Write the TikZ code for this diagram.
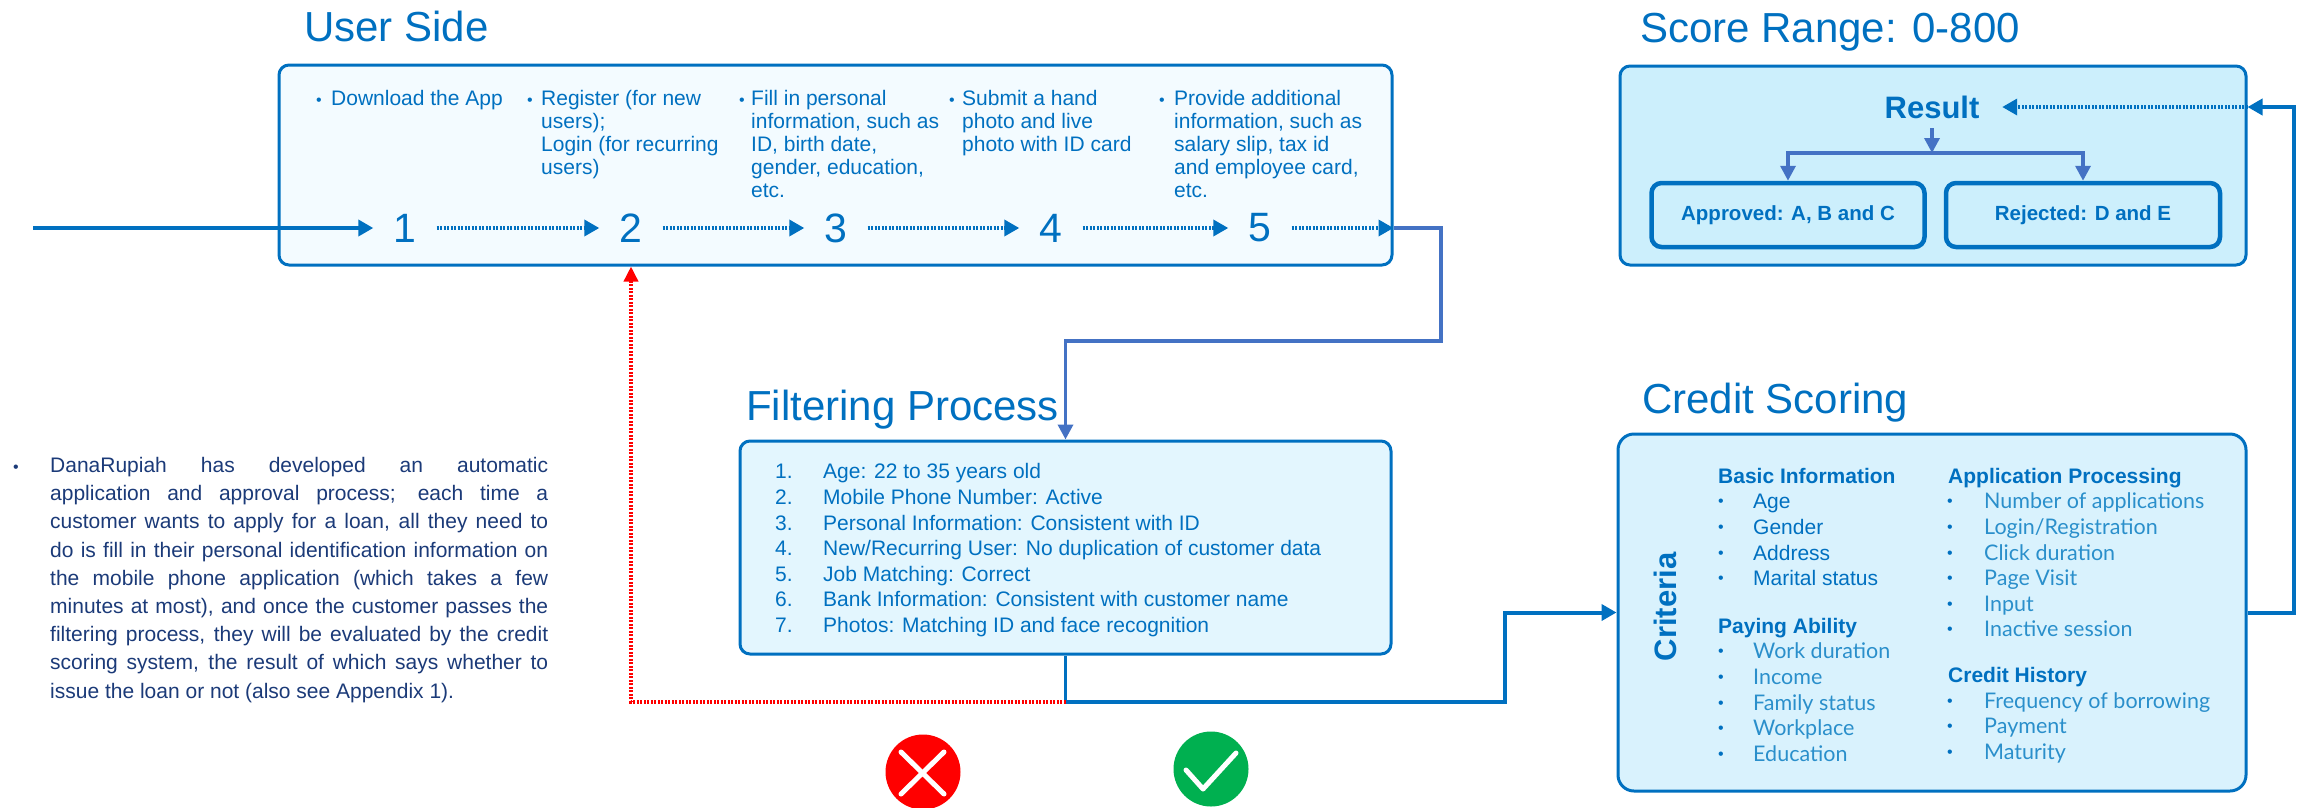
\documentclass[tikz,border=0pt]{standalone}
\usepackage{fontspec}
\setmainfont{Liberation Sans}
\newfontfamily\lightfont{Lato}
\usetikzlibrary{arrows.meta}
\definecolor{mainblue}{HTML}{0070C0}
\definecolor{linkblue}{HTML}{4472C4}
\definecolor{softblue}{HTML}{2A8FCB}
\definecolor{navytext}{HTML}{1B3A78}
\definecolor{userfill}{HTML}{F3FBFF}
\definecolor{filterfill}{HTML}{E3F6FE}
\definecolor{scorefill}{HTML}{CCEFFC}
\definecolor{creditfill}{HTML}{D9F2FD}
\definecolor{failgreen}{HTML}{00B050}
\tikzset{
    headtext/.style={anchor=base west, inner sep=0pt, text=mainblue, font=\fontsize{42}{50}\selectfont},
    steptext/.style={anchor=north west, inner sep=0pt, align=left, text=mainblue, font=\fontsize{21}{23}\selectfont},
    stepdot/.style={anchor=base, inner sep=0pt, text=mainblue, font=\fontsize{16}{16}\selectfont},
    stepnum/.style={inner sep=0pt, minimum width=63pt, minimum height=40pt, text=mainblue, font=\fontsize{41}{46}\selectfont},
    rowtext/.style={anchor=base west, inner sep=0pt, text=mainblue, font=\fontsize{21}{24}\selectfont},
    softtext/.style={anchor=base west, inner sep=0pt, text=softblue, font=\lightfont\fontsize{21.5}{24}\selectfont},
    boldrow/.style={anchor=base west, inner sep=0pt, text=mainblue, font=\bfseries\fontsize{21}{24}\selectfont},
    panel/.style={draw=mainblue, line width=3pt, rounded corners=10pt, inner sep=0pt},
    innerpanel/.style={panel, line width=4.5pt, fill=scorefill, text=mainblue, font=\bfseries\fontsize{20.5}{24}\selectfont},
    solidarrow/.style={draw=mainblue, line width=4pt, -{Triangle[length=15pt,width=16pt]}},
    dotarrow/.style={draw=mainblue, line width=3.5pt, dash pattern=on 2pt off 1.5pt, -{Triangle[length=15pt,width=16pt]}},
    linkarrow/.style={draw=linkblue, line width=3.5pt, -{Triangle[length=15pt,width=15pt]}},
}
\begin{document}
\begin{tikzpicture}[x=1pt,y=-1pt]
    \useasboundingbox (0,0) rectangle (2305,807);
    % boxes
    \node[panel, fill=userfill, minimum width=1113pt, minimum height=200pt] (userbox) at (835.5,165) {};
    \node[panel, fill=filterfill, minimum width=651pt, minimum height=213pt] (filterbox) at (1065.5,547.5) {};
    \node[panel, fill=scorefill, minimum width=626pt, minimum height=199pt] (scorebox) at (1933,165.5) {};
    \node[panel, fill=creditfill, minimum width=628pt, minimum height=357pt, rounded corners=16pt] (creditbox) at (1932,612.5) {};
    % titles
    \node[headtext] (userhead) at (304,41.5) {User Side};
    \node[headtext] (scorehead) at (1640,42) {Score Range: 0-800};
    \node[headtext] (filterhead) at (746,420) {Filtering Process};
    \node[headtext] (credithead) at (1642,413) {Credit Scoring};
    % user steps
    \node[stepdot] (dota) at (319,105) {•};
    \node[steptext] (stepa) at (331,90) {Download the App};
    \node[stepdot] (dotb) at (530,105) {•};
    \node[steptext] (stepb) at (541,90) {Register (for new\\users);\\Login (for recurring\\users)};
    \node[stepdot] (dotc) at (742,105) {•};
    \node[steptext] (stepc) at (751,90) {Fill in personal\\information, such as\\ID, birth date,\\gender, education,\\etc.};
    \node[stepdot] (dotd) at (952,105) {•};
    \node[steptext] (stepd) at (962,90) {Submit a hand\\photo and live\\photo with ID card};
    \node[stepdot] (dote) at (1162,105) {•};
    \node[steptext] (stepe) at (1174,90) {Provide additional\\information, such as\\salary slip, tax id\\and employee card,\\etc.};
    \node[stepnum] (n1) at (405,228) {1};
    \node[stepnum] (n2) at (631,228) {2};
    \node[stepnum] (n3) at (836,228) {3};
    \node[stepnum] (n4) at (1051,228) {4};
    \node[stepnum] (n5) at (1260,228) {5};
    % filtering rows
    \node[rowtext] (fa) at (775,478) {1.};
    \node[rowtext] (fb) at (775,504) {2.};
    \node[rowtext] (fc) at (775,530) {3.};
    \node[rowtext] (fd) at (775,555) {4.};
    \node[rowtext] (fe) at (775,581) {5.};
    \node[rowtext] (ff) at (775,606) {6.};
    \node[rowtext] (fg) at (775,632) {7.};
    \node[rowtext] (ta) at (823,478) {Age: 22 to 35 years old};
    \node[rowtext] (tb) at (823,504) {Mobile Phone Number: Active};
    \node[rowtext] (tc) at (823,530) {Personal Information: Consistent with ID};
    \node[rowtext] (td) at (823,555) {New/Recurring User: No duplication of customer data};
    \node[rowtext] (te) at (823,581) {Job Matching: Correct};
    \node[rowtext] (tf) at (823,606) {Bank Information: Consistent with customer name};
    \node[rowtext] (tg) at (823,632) {Photos: Matching ID and face recognition};
    % score side
    \node[inner sep=0pt, minimum width=140pt, minimum height=42pt, text=mainblue, font=\bfseries\fontsize{31}{36}\selectfont] (result) at (1932,107) {Result};
    \node[innerpanel, minimum width=273pt, minimum height=64pt] (approved) at (1788,215) {Approved: A, B and C};
    \node[innerpanel, minimum width=274pt, minimum height=64pt] (rejected) at (2083,215) {Rejected: D and E};
    % criteria
    \node[rotate=90, inner sep=0pt, text=mainblue, font=\bfseries\fontsize{31}{36}\selectfont] (criteria) at (1665,607) {Criteria};
    \node[boldrow] (basic) at (1718,483) {Basic Information};
    \node[stepdot] (ba) at (1721,506) {•};
    \node[rowtext] (baa) at (1753,508) {Age};
    \node[stepdot] (bb) at (1721,532) {•};
    \node[rowtext] (bbb) at (1753,534) {Gender};
    \node[stepdot] (bc) at (1721,558) {•};
    \node[rowtext] (bcc) at (1753,560) {Address};
    \node[stepdot] (bd) at (1721,583) {•};
    \node[rowtext] (bdd) at (1753,585) {Marital status};
    \node[boldrow] (paying) at (1718,633) {Paying Ability};
    \node[stepdot] (pa) at (1721,656) {•};
    \node[softtext] (paa) at (1753,658) {Work duration};
    \node[stepdot] (pb) at (1721,682) {•};
    \node[softtext] (pbb) at (1753,684) {Income};
    \node[stepdot] (pc) at (1721,708) {•};
    \node[softtext] (pcc) at (1753,710) {Family status};
    \node[stepdot] (pd) at (1721,733) {•};
    \node[softtext] (pdd) at (1753,735) {Workplace};
    \node[stepdot] (pe) at (1721,759) {•};
    \node[softtext] (pee) at (1753,761) {Education};
    \node[boldrow] (process) at (1948,483) {Application Processing};
    \node[stepdot] (aa) at (1950,506) {•};
    \node[softtext] (aaa) at (1984,508) {Number of applications};
    \node[stepdot] (ab) at (1950,532) {•};
    \node[softtext] (abb) at (1984,534) {Login/Registration};
    \node[stepdot] (ac) at (1950,558) {•};
    \node[softtext] (acc) at (1984,560) {Click duration};
    \node[stepdot] (ad) at (1950,583) {•};
    \node[softtext] (add) at (1984,585) {Page Visit};
    \node[stepdot] (ae) at (1950,609) {•};
    \node[softtext] (aee) at (1984,611) {Input};
    \node[stepdot] (af) at (1950,634) {•};
    \node[softtext] (aff) at (1984,636) {Inactive session};
    \node[boldrow] (history) at (1948,682) {Credit History};
    \node[stepdot] (ca) at (1950,706) {•};
    \node[softtext] (caa) at (1984,708) {Frequency of borrowing};
    \node[stepdot] (cb) at (1950,731) {•};
    \node[softtext] (cbb) at (1984,733) {Payment};
    \node[stepdot] (cc) at (1950,757) {•};
    \node[softtext] (ccc) at (1984,759) {Maturity};
    % paragraph on the left
    \node[stepdot, text=navytext] (noteDot) at (16,472) {•};
    \node[anchor=north west, inner sep=0pt, text width=498pt, align=justify, text=navytext, font=\fontsize{21}{28.2}\selectfont] (note) at (50,457) {DanaRupiah has developed an automatic\linebreak application and approval process; each time a\linebreak customer wants to apply for a loan, all they need to\linebreak do is fill in their personal identification information on\linebreak the mobile phone application (which takes a few\linebreak minutes at most), and once the customer passes the\linebreak filtering process, they will be evaluated by the credit\linebreak scoring system, the result of which says whether to\linebreak issue the loan or not (also see Appendix 1).};
    % icons
    \node[circle, fill=red, inner sep=0pt, minimum size=75pt] (crossicon) at (923,772) {};
    \draw[white, line width=5pt, line cap=round] (901,752) -- (944,794);
    \draw[white, line width=5pt, line cap=round] (944,752) -- (901,794);
    \node[circle, fill=failgreen, inner sep=0pt, minimum size=75pt] (tickicon) at (1211,769) {};
    \draw[white, line width=5pt, line cap=round, line join=round] (1186,770) -- (1203,789) -- (1236,753);
    % step connectors
    \coordinate (entry) at (33,228);
    \draw[solidarrow] (entry) -- (n1.west);
    \draw[dotarrow] (n1.east) -- (n2.west);
    \draw[dotarrow] (n2.east) -- (n3.west);
    \draw[dotarrow] (n3.east) -- (n4.west);
    \draw[dotarrow] (n4.east) -- (n5.west);
    \draw[dotarrow] (n5.east) -- (n5 -| userbox.east);
    % between the panels
    \coordinate (userturn) at (1441,341);
    \coordinate (split) at (1065.5,702);
    \coordinate (rise) at (1505,612.5);
    \coordinate (outturn) at (2294,612.5);
    \coordinate (topturn) at (2294,107);
    \coordinate (branch) at (1932,153);
    \draw[linkarrow] (n5 -| userbox.east) -| (userturn) -| (filterbox.north);
    \draw[draw=mainblue, line width=3.5pt] (filterbox.south) -- (split);
    \draw[solidarrow] (split) -| (rise) -- (creditbox.west);
    \draw[solidarrow] (creditbox.east) -- (outturn) -- (topturn) -- (topturn -| scorebox.east);
    \draw[dotarrow] (topturn -| scorebox.east) -- (result.east);
    \draw[red, line width=3.5pt, dash pattern=on 2pt off 1.5pt, -{Triangle[length=15pt,width=14pt]}] (split) -| (n2 |- userbox.south);
    \draw[linkarrow] (result.south) -- (branch);
    \draw[linkarrow] (branch) -| (approved.north);
    \draw[linkarrow] (branch) -| (rejected.north);
\end{tikzpicture}
\end{document}
